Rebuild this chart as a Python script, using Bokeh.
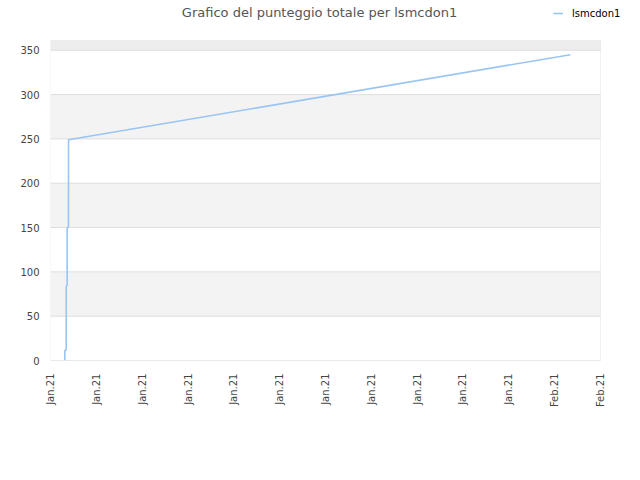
import pandas as pd
from bokeh.plotting import figure
from bokeh.models import (ColumnDataSource, Range1d, FixedTicker, DatetimeTickFormatter,
                          Label, Legend, LegendItem, BoxAnnotation)
from bokeh.embed import file_html
from bokeh.resources import INLINE

title_text = "Grafico del punteggio totale per lsmcdon1"
player = "lsmcdon1"

times = ["2021-01-01 22:28", "2021-01-01 22:30", "2021-01-02 00:38", "2021-01-02 00:40",
         "2021-01-02 00:42", "2021-01-02 00:44", "2021-01-02 00:46", "2021-01-02 02:12",
         "2021-01-02 02:14", "2021-01-02 02:16", "2021-01-02 04:14", "2021-01-02 04:16",
         "2021-01-02 04:18", "2021-01-02 04:20", "2021-02-04 00:43"]
scores = [0, 11, 12, 22, 44, 69, 84, 85, 131, 150, 151, 168, 207, 249, 345]

x_tick_dates = ["2021-01-01", "2021-01-04", "2021-01-07", "2021-01-10", "2021-01-13",
                "2021-01-16", "2021-01-19", "2021-01-22", "2021-01-25", "2021-01-28",
                "2021-01-31", "2021-02-03", "2021-02-06"]
y_ticks = [0, 50, 100, 150, 200, 250, 300, 350]
y_max = 361

FONT = "DejaVu Sans"
LINE_COLOR = "#99c5f4"

# layout (pixels): chart area is 550x320 at (50, 40); the frame is extended up and to the
# right so that the title and legend (drawn inside the frame) are not clipped.
LEFT, TOP_GAP, AREA_W, AREA_H, EXTRA_R, BOTTOM = 50, 40, 550, 320, 32, 112
FW, FH = AREA_W + EXTRA_R, AREA_H + TOP_GAP

t = pd.to_datetime(times)
xt = pd.to_datetime(x_tick_dates)
source = ColumnDataSource(dict(t=t, v=scores))

x0, x1 = xt[0], xt[-1]
x_end = x0 + (x1 - x0) * (FW / AREA_W)
y_end = y_max * FH / AREA_H

p = figure(x_axis_type="datetime", width=LEFT + FW, height=FH + BOTTOM,
           frame_width=FW, frame_height=FH,
           min_border_left=LEFT, min_border_top=0, min_border_right=0, min_border_bottom=BOTTOM,
           x_range=Range1d(x0, x_end), y_range=Range1d(0, y_end),
           output_backend="svg", toolbar_location=None)

p.outline_line_color = None
p.background_fill_color = "white"
p.border_fill_color = "white"
p.grid.visible = False

# horizontal bands of the chart area
for i in range(len(y_ticks) - 1):
    p.add_layout(BoxAnnotation(left=x0, right=x1, bottom=y_ticks[i], top=y_ticks[i + 1],
                               fill_color="#f3f3f3" if i % 2 == 1 else "#ffffff", fill_alpha=1.0,
                               line_color=None, level="underlay"))
p.add_layout(BoxAnnotation(left=x0, right=x1, bottom=y_ticks[-1], top=y_max,
                           fill_color="#ededed", fill_alpha=1.0,
                           line_color=None, level="underlay"))
# horizontal grid lines
n = len(y_ticks)
p.segment(x0=[x0] * n, x1=[x1] * n, y0=y_ticks, y1=y_ticks, line_color="#dedede", line_width=1)
# chart area border
p.add_layout(BoxAnnotation(left=x0, right=x1, bottom=0, top=y_max, fill_alpha=0,
                           line_color="#cfcfcf", line_width=1, level="annotation"))

xa = p.xaxis[0]
xa.ticker = FixedTicker(ticks=[d.value / 1e6 for d in xt])
fmt = "%b.%y"
xa.formatter = DatetimeTickFormatter(milliseconds=fmt, seconds=fmt, minsec=fmt, minutes=fmt,
                                     hourmin=fmt, hours=fmt, days=fmt, months=fmt, years=fmt)
xa.major_label_orientation = 1.5707963
ya = p.yaxis[0]
ya.ticker = FixedTicker(ticks=y_ticks)
for ax in (xa, ya):
    ax.axis_line_color = None
    ax.major_tick_line_color = None
    ax.minor_tick_line_color = None
    ax.major_tick_out = 0
    ax.major_tick_in = 0
    ax.minor_tick_out = 0
    ax.major_label_text_font = FONT
    ax.major_label_text_font_size = "10px"
    ax.major_label_text_color = "#444444"
ya.major_label_standoff = 11
xa.major_label_standoff = 13

r = p.line(x="t", y="v", source=source, line_color=LINE_COLOR, line_width=1.6)

# title (screen units from frame bottom-left)
p.add_layout(Label(x=319 - LEFT, y=FH - 12, x_units="screen", y_units="screen",
                   text=title_text, text_align="center", text_baseline="middle",
                   text_font=FONT, text_font_size="13px", text_color="#555555"))

legend = Legend(items=[LegendItem(label=player, renderers=[r])],
                location=(553 - LEFT, FH - 19),
                margin=0, padding=0, glyph_width=10, glyph_height=12, label_height=12,
                label_standoff=9, background_fill_alpha=0, border_line_color=None,
                label_text_font=FONT, label_text_font_size="10px", label_text_color="#000000")
p.add_layout(legend, "center")

open("out.html", "w").write(file_html(p, INLINE))
